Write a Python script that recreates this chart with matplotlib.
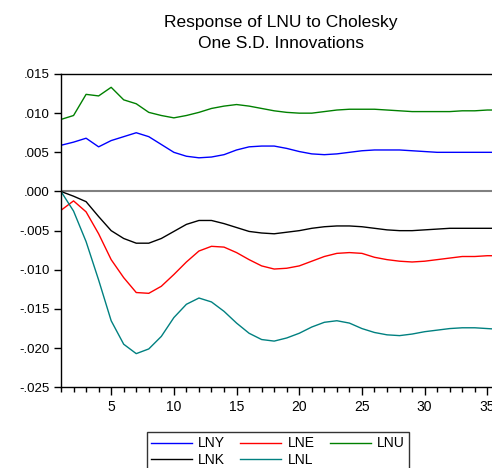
import matplotlib
matplotlib.use("Agg")
import matplotlib.pyplot as plt
from matplotlib.ticker import FuncFormatter, MultipleLocator

plt.rcParams['font.family'] = ['Liberation Sans', 'DejaVu Sans']

periods = list(range(1, 37))

lny = [0.0059, 0.0063, 0.0068, 0.0057, 0.0065, 0.0070, 0.0075, 0.0070, 0.0060, 0.0050,
       0.0045, 0.0043, 0.0044, 0.0047, 0.0053, 0.0057, 0.0058, 0.0058, 0.0055, 0.0051,
       0.0048, 0.0047, 0.0048, 0.0050, 0.0052, 0.0053, 0.0053, 0.0053, 0.0052, 0.0051,
       0.0050, 0.0050, 0.0050, 0.0050, 0.0050, 0.0050]
lne = [-0.0024, -0.0012, -0.0026, -0.0054, -0.0087, -0.0110, -0.0129, -0.0130, -0.0121, -0.0106,
       -0.0090, -0.0076, -0.0070, -0.0071, -0.0078, -0.0087, -0.0095, -0.0099, -0.0098, -0.0095,
       -0.0089, -0.0083, -0.0079, -0.0078, -0.0079, -0.0084, -0.0087, -0.0089, -0.0090, -0.0089,
       -0.0087, -0.0085, -0.0083, -0.0083, -0.0082, -0.0082]
lnu = [0.0092, 0.0097, 0.0124, 0.0122, 0.0133, 0.0117, 0.0112, 0.0101, 0.0097, 0.0094,
       0.0097, 0.0101, 0.0106, 0.0109, 0.0111, 0.0109, 0.0106, 0.0103, 0.0101, 0.0100,
       0.0100, 0.0102, 0.0104, 0.0105, 0.0105, 0.0105, 0.0104, 0.0103, 0.0102, 0.0102,
       0.0102, 0.0102, 0.0103, 0.0103, 0.0104, 0.0104]
lnk = [0.0, -0.0006, -0.0013, -0.0032, -0.0050, -0.0060, -0.0066, -0.0066, -0.0060, -0.0051,
       -0.0042, -0.0037, -0.0037, -0.0041, -0.0046, -0.0051, -0.0053, -0.0054, -0.0052, -0.0050,
       -0.0047, -0.0045, -0.0044, -0.0044, -0.0045, -0.0047, -0.0049, -0.0050, -0.0050, -0.0049,
       -0.0048, -0.0047, -0.0047, -0.0047, -0.0047, -0.0047]
lnl = [0.0, -0.0025, -0.0064, -0.0113, -0.0165, -0.0195, -0.0207, -0.0201, -0.0185, -0.0161,
       -0.0144, -0.0136, -0.0141, -0.0153, -0.0168, -0.0181, -0.0189, -0.0191, -0.0187, -0.0181,
       -0.0173, -0.0167, -0.0165, -0.0168, -0.0175, -0.0180, -0.0183, -0.0184, -0.0182, -0.0179,
       -0.0177, -0.0175, -0.0174, -0.0174, -0.0175, -0.0176]


def eviews_fmt(v, pos):
    # EViews style: no leading zero, e.g. .015 / -.025
    if abs(v) < 1e-9:
        return ".000"
    s = "%.3f" % v
    if s.startswith("-0"):
        return "-" + s[2:]
    if s.startswith("0"):
        return s[1:]
    return s


fig = plt.figure(figsize=(4.92, 4.68), dpi=100)
ax = fig.add_axes([0.124, 0.1724, 0.892, 0.6695])

ax.axhline(0, color='#808080', linewidth=1.5, zorder=1)

ax.plot(periods, lny, color='#0000ff', linewidth=1.0, label='LNY')
ax.plot(periods, lne, color='#ff0000', linewidth=1.0, label='LNE')
ax.plot(periods, lnu, color='#008000', linewidth=1.0, label='LNU')
ax.plot(periods, lnk, color='black', linewidth=1.0, label='LNK')
ax.plot(periods, lnl, color='#008080', linewidth=1.0, label='LNL')

ax.set_xlim(1, 36)
ax.set_ylim(-0.025, 0.015)
ax.xaxis.set_major_locator(MultipleLocator(5))
ax.xaxis.set_minor_locator(MultipleLocator(1))
ax.yaxis.set_major_locator(MultipleLocator(0.005))
ax.yaxis.set_major_formatter(FuncFormatter(eviews_fmt))

ax.tick_params(axis='x', which='major', direction='out', length=6, width=1, labelsize=10, pad=3)
ax.tick_params(axis='x', which='minor', direction='out', length=3.5, width=1)
ax.tick_params(axis='y', direction='out', length=5, width=1, labelsize=9.5, pad=3)
for side in ['left', 'bottom', 'top', 'right']:
    ax.spines[side].set_linewidth(1.0)

fig.text(0.571, 1 - 23 / 468, "Response of LNU to Cholesky", ha='center', va='center', fontsize=12.5)
fig.text(0.571, 1 - 44 / 468, "One S.D. Innovations", ha='center', va='center', fontsize=12.5)

# legend order: LNY LNE LNU / LNK LNL (row-wise)
h, l = ax.get_legend_handles_labels()
order = [0, 3, 1, 4, 2]
leg = fig.legend([h[i] for i in order], [l[i] for i in order], ncol=3,
                 loc='upper left', bbox_to_anchor=(146.7 / 492, 1 - 432.3 / 468),
                 fontsize=10, frameon=True, fancybox=False, edgecolor='black',
                 handlelength=2.95, handletextpad=0.45, columnspacing=1.1,
                 borderpad=0.3, labelspacing=0.15, borderaxespad=0)
leg.get_frame().set_linewidth(1.0)

fig.savefig("out.png", dpi=100)
